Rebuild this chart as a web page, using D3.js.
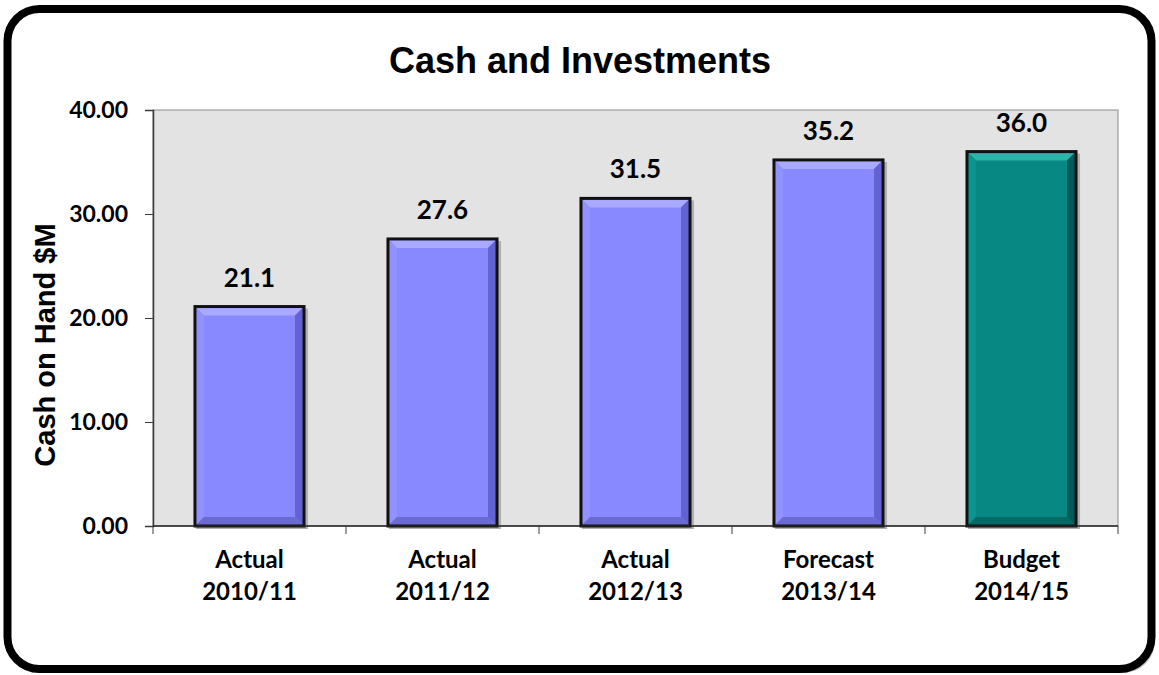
<!DOCTYPE html>
<html>
<head>
<meta charset="utf-8">
<script src="https://cdn.jsdelivr.net/npm/d3@7"></script>
<style>
  html, body { margin: 0; padding: 0; background: #fff; }
  svg { display: block; }
</style>
</head>
<body>
<svg id="chart" width="1159" height="675"></svg>
<script>
// Chart data
const categoryKind = ["Actual", "Actual", "Actual", "Forecast", "Budget"];
const categoryYear = ["2010/11", "2011/12", "2012/13", "2013/14", "2014/15"];
const cashValues = [21.1, 27.6, 31.5, 35.2, 36.0];
const valueLabels = ["21.1", "27.6", "31.5", "35.2", "36.0"];
const yTickValues = [0, 10, 20, 30, 40];
const yTickLabels = ["0.00", "10.00", "20.00", "30.00", "40.00"];

const chartTitle = "Cash and Investments";
const yAxisTitle = "Cash on Hand $M";

// Bar palettes: base, top bevel, left bevel, right bevel, bottom bevel
const palettes = {
  normal: { base: "#8888ff", top: "#a9a9ff", left: "#9292ff", right: "#6262d2", bottom: "#6a6ad0" },
  budget: { base: "#078883", top: "#2db2ac", left: "#0d948e", right: "#045a57", bottom: "#056a66" }
};

const svg = d3.select("#chart");
const W = 1159, H = 675;
const plot = { left: 153, right: 1118, top: 110, bottom: 526 };

// Outer rounded frame
svg.append("rect")
  .attr("x", 11).attr("y", 13).attr("width", 1144).attr("height", 660)
  .attr("rx", 32).attr("fill", "#9a9a9a").attr("opacity", 0.6);
svg.append("rect")
  .attr("x", 7.5).attr("y", 9).attr("width", 1144).attr("height", 660)
  .attr("rx", 32).attr("fill", "#fff")
  .attr("stroke", "#000").attr("stroke-width", 8);

const x = d3.scaleBand()
  .domain(d3.range(cashValues.length))
  .range([plot.left, plot.right])
  .paddingInner(0.435).paddingOuter(0.2175);

const y = d3.scaleLinear().domain([0, 40]).range([plot.bottom, plot.top]);

// Plot area background
svg.append("rect")
  .attr("x", plot.left).attr("y", plot.top)
  .attr("width", plot.right - plot.left).attr("height", plot.bottom - plot.top)
  .attr("fill", "#e3e3e3")
  .attr("stroke", "#8c8c8c").attr("stroke-width", 1);

// Bars with bevelled faces
const bars = svg.append("g");
cashValues.forEach((v, i) => {
  const pal = categoryKind[i] === "Budget" ? palettes.budget : palettes.normal;
  const x0 = x(i), x1 = x(i) + x.bandwidth();
  const y0 = y(v), y1 = y(0);
  const b = 9;
  const g = bars.append("g");
  // soft drop shadow
  g.append("rect")
    .attr("x", x0 + 1).attr("y", y0 + 2)
    .attr("width", x1 - x0 + 3).attr("height", y1 - y0 + 1)
    .attr("fill", "#b0b0b0");
  g.append("rect")
    .attr("x", x0).attr("y", y0).attr("width", x1 - x0).attr("height", y1 - y0)
    .attr("fill", pal.base);
  const poly = (pts, fill) => g.append("polygon")
    .attr("points", pts.map(p => p.join(",")).join(" ")).attr("fill", fill);
  poly([[x0, y0], [x1, y0], [x1 - b, y0 + b], [x0 + b, y0 + b]], pal.top);
  poly([[x0, y0], [x0 + b, y0 + b], [x0 + b, y1 - b], [x0, y1]], pal.left);
  poly([[x1, y0], [x1, y1], [x1 - b, y1 - b], [x1 - b, y0 + b]], pal.right);
  poly([[x0, y1], [x0 + b, y1 - b], [x1 - b, y1 - b], [x1, y1]], pal.bottom);
  g.append("rect")
    .attr("x", x0).attr("y", y0).attr("width", x1 - x0).attr("height", y1 - y0)
    .attr("fill", "none").attr("stroke", "#111").attr("stroke-width", 3);
});

// Value labels
svg.append("g").selectAll("text")
  .data(cashValues).join("text")
  .attr("x", (d, i) => x(i) + x.bandwidth() / 2)
  .attr("y", d => y(d) - 20)
  .attr("text-anchor", "middle")
  .attr("font-family", "Lato, 'Open Sans', sans-serif")
  .attr("font-weight", "bold").attr("font-size", 26).attr("fill", "#000")
  .text((d, i) => valueLabels[i]);

// Y axis
const yAxis = d3.axisLeft(y)
  .tickValues(yTickValues)
  .tickFormat((d, i) => yTickLabels[i])
  .tickSize(8).tickPadding(17);
const yg = svg.append("g").attr("transform", `translate(${plot.left},0)`).call(yAxis);
yg.select(".domain").attr("stroke", "#3a3a3a").attr("stroke-width", 1.5);
yg.selectAll(".tick line").attr("stroke", "#3a3a3a");
yg.selectAll(".tick text")
  .attr("font-family", "Lato, 'Open Sans', sans-serif")
  .attr("font-weight", "bold").attr("font-size", 23).attr("fill", "#000");

// X axis: baseline plus ticks at category boundaries
const xg = svg.append("g");
xg.append("line")
  .attr("x1", plot.left).attr("x2", plot.right)
  .attr("y1", plot.bottom).attr("y2", plot.bottom)
  .attr("stroke", "#222").attr("stroke-width", 1.5);
const step = x.step();
const boundaries = d3.range(cashValues.length + 1).map(i => plot.left + i * (plot.right - plot.left) / cashValues.length);
xg.selectAll("line.tick").data(boundaries).join("line")
  .attr("class", "tick")
  .attr("x1", d => d).attr("x2", d => d)
  .attr("y1", plot.bottom).attr("y2", plot.bottom + 8)
  .attr("stroke", "#3a3a3a").attr("stroke-width", 1);

const catText = xg.selectAll("text.cat").data(categoryKind).join("text")
  .attr("class", "cat")
  .attr("text-anchor", "middle")
  .attr("font-family", "Lato, 'Open Sans', sans-serif")
  .attr("font-weight", "bold").attr("font-size", 24).attr("fill", "#000");
catText.append("tspan")
  .attr("x", (d, i) => x(i) + x.bandwidth() / 2).attr("y", 568)
  .text(d => d);
catText.append("tspan")
  .attr("x", (d, i) => x(i) + x.bandwidth() / 2).attr("y", 600)
  .text((d, i) => categoryYear[i]);

// Titles
svg.append("text")
  .attr("x", 580).attr("y", 73)
  .attr("text-anchor", "middle")
  .attr("font-family", "'Liberation Sans', Arial, sans-serif")
  .attr("font-weight", "bold").attr("font-size", 36).attr("fill", "#000")
  .text(chartTitle);

svg.append("text")
  .attr("transform", "translate(55,345) rotate(-90)")
  .attr("text-anchor", "middle")
  .attr("font-family", "'Liberation Sans', Arial, sans-serif")
  .attr("font-weight", "bold").attr("font-size", 29).attr("fill", "#000")
  .text(yAxisTitle);
</script>
</body>
</html>
